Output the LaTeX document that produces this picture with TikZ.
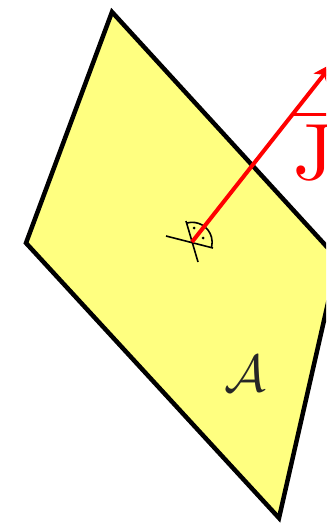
\documentclass[tikz,border=0pt]{standalone}
\usetikzlibrary{arrows.meta}
\definecolor{planefill}{RGB}{255,255,128}
\begin{document}
\begin{tikzpicture}[x=1pt,y=-1pt,
  border/.style={draw=black,line width=4.5pt,line join=miter},
  markline/.style={draw=black,line width=1.6pt},
  vecarrow/.style={draw=red,line width=4pt,-{Stealth[length=20pt,width=17pt,inset=5pt]}},
  dotmark/.style={fill=black,circle,inner sep=0pt,minimum size=3pt}]
\useasboundingbox (0,0) rectangle (326,526);
\clip (0,0) rectangle (326,526);
\coordinate (T) at (112,12);
\coordinate (R) at (338,259);
\coordinate (B) at (279,518);
\coordinate (L) at (26,243);
\fill[planefill] (T) -- (R) -- (B) -- (L) -- cycle;
\draw[border] (T) -- (R) -- (B) -- (L) -- cycle;
\coordinate (O) at (192,242);
\coordinate (m1a) at (166,236);
\coordinate (m1b) at (213,248);
\coordinate (m2a) at (186,221);
\coordinate (m2b) at (198,262);
\draw[markline] (m1a) -- (m1b);
\draw[markline] (m2a) -- (m2b);
\draw[markline] (187,223) arc[start angle=-105,end angle=14,radius=20];
\node[dotmark] (d1) at (194,228) {};
\node[dotmark] (d2) at (203,238) {};
\coordinate (P) at (333,63);
\draw[vecarrow] (O) -- (P);
\node[red,scale=8,anchor=base west,inner sep=0pt] (jl) at (292,180) {$\overline{\mathrm{J}}$};
\node[black!85,scale=5.2,anchor=base,inner sep=0pt] (al) at (245,391) {$\mathcal{A}$};
\end{tikzpicture}
\end{document}
